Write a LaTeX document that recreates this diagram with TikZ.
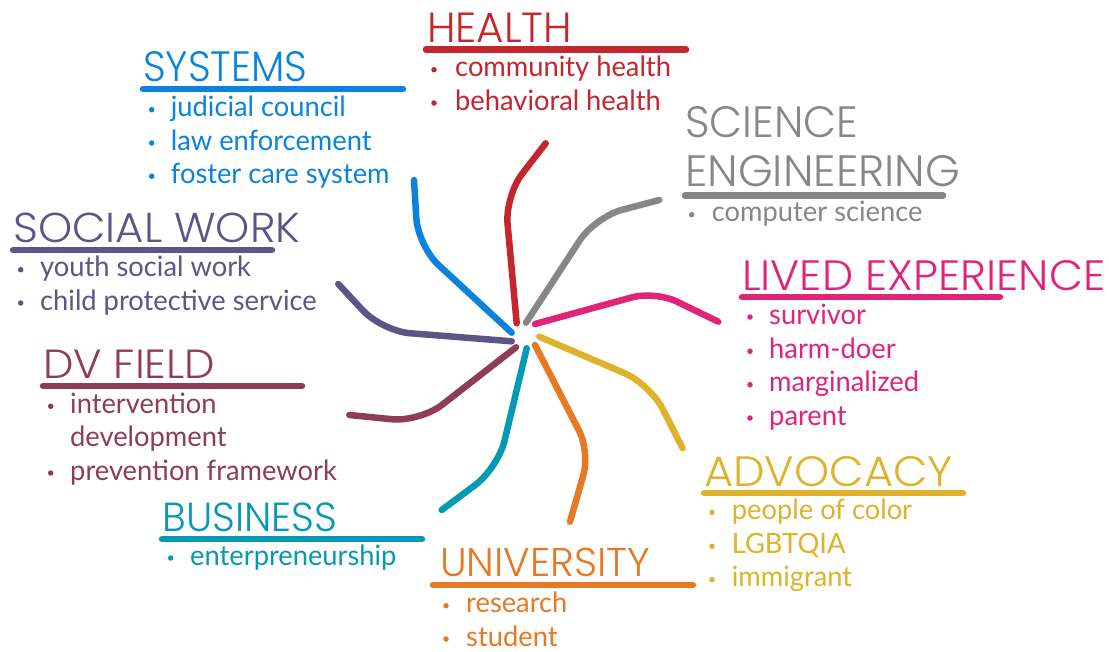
\documentclass[tikz,border=0pt]{standalone}
\usepackage{graphicx}
\usepackage{fontspec}
\IfFontExistsTF{Poppins Light}{\newfontfamily\headfont{Poppins Light}}{\newfontfamily\headfont{Poppins}}
\newfontfamily\bodyfont{Lato}[FakeStretch=0.975]
\definecolor{cHealth}{HTML}{C4262E}
\definecolor{cSys}{HTML}{0A83DF}
\definecolor{cSci}{HTML}{878787}
\definecolor{cSoc}{HTML}{5E5488}
\definecolor{cLived}{HTML}{E0247A}
\definecolor{cDV}{HTML}{8F3B5A}
\definecolor{cAdv}{HTML}{DFB22B}
\definecolor{cBus}{HTML}{0499B4}
\definecolor{cUni}{HTML}{E77824}
\newcommand{\hdtext}[3]{\resizebox{#1pt}{#2pt}{\headfont #3}}
\tikzset{
  spoke/.style={line width=6.5pt, line cap=round, rounded corners=28pt},
  uline/.style={line width=6.5pt, line cap=round},
  head/.style={inner sep=0pt, anchor=base west},
  item/.style={inner sep=0pt, anchor=base west, font=\bodyfont\fontsize{28}{33}\selectfont},
  dot/.style={circle, inner sep=0pt, minimum size=5.5pt},
}
\begin{document}
\begin{tikzpicture}[x=1pt,y=-1pt]
\fill[white] (0,0) rectangle (1109,651);
\useasboundingbox (0,0) rectangle (1109,651);

% spokes
\draw[spoke, cHealth] (545.7,143.3) -- (505,196) -- (516.7,323.3);
\draw[spoke, cSys]    (414,180) -- (418,246) -- (511.7,332.7);
\draw[spoke, cSci]    (659.3,200) -- (595,217) -- (526,322.7);
\draw[spoke, cLived, rounded corners=24pt] (535,324) -- (655,291) -- (718.3,321.7);
\draw[spoke, cAdv]    (539.3,336.7) -- (650,384) -- (682.7,448.3);
\draw[spoke, cUni, rounded corners=24pt] (535,345) -- (590,452) -- (570,521.7);
\draw[spoke, cBus]    (526.7,348.3) -- (498,468) -- (441.7,510);
\draw[spoke, cDV]     (516,347.3) -- (420,422) -- (349.3,415);
\draw[spoke, cSoc]    (511.7,341.3) -- (382,331) -- (338.3,284);

% HEALTH
\node[head, text=cHealth] (health) at (427,42.7) {\hdtext{145}{29.5}{HEALTH}};
\draw[uline, cHealth] (426,49.5) -- (686,49.5);
\node[dot, fill=cHealth] (hb1) at (434,69.7) {};
\node[item, text=cHealth] (h1) at (455,76.7) {community health};
\node[dot, fill=cHealth] (hb2) at (434,103) {};
\node[item, text=cHealth] (h2) at (455,110) {behavioral health};

% SYSTEMS
\node[head, text=cSys] (systems) at (143,81.7) {\hdtext{164}{30}{SYSTEMS}};
\draw[uline, cSys] (143,89) -- (403,89);
\node[dot, fill=cSys] (sb1) at (151.7,109.7) {};
\node[item, text=cSys] (s1) at (170.7,116.7) {judicial council};
\node[dot, fill=cSys] (sb2) at (151.7,143) {};
\node[item, text=cSys] (s2) at (170.7,150) {law enforcement};
\node[dot, fill=cSys] (sb3) at (151.7,176.3) {};
\node[item, text=cSys] (s3) at (170.7,183.3) {foster care system};

% SCIENCE ENGINEERING
\node[head, text=cSci] (science) at (685,137.3) {\hdtext{173}{31}{SCIENCE}};
\node[head, text=cSci] (engineering) at (685,186) {\hdtext{275}{31}{ENGINEERING}};
\draw[uline, cSci] (685,195.7) -- (943,195.7);
\node[dot, fill=cSci] (cb1) at (691.7,214.7) {};
\node[item, text=cSci] (c1) at (711.7,221.7) {computer science};

% SOCIAL WORK
\node[head, text=cSoc] (social) at (13,242.7) {\hdtext{287}{29.5}{SOCIAL WORK}};
\draw[uline, cSoc] (13,250) -- (272,250);
\node[dot, fill=cSoc] (wb1) at (20.7,269.7) {};
\node[item, text=cSoc] (w1) at (40,276.7) {youth social work};
\node[dot, fill=cSoc] (wb2) at (20.7,303) {};
\node[item, text=cSoc] (w2) at (40,310) {child protective service};

% LIVED EXPERIENCE
\node[head, text=cLived] (lived) at (742,290) {\hdtext{363}{30}{LIVED EXPERIENCE}};
\draw[uline, cLived] (742,297) -- (1000,297);
\node[dot, fill=cLived] (lb1) at (750,317) {};
\node[item, text=cLived] (l1) at (769,324) {survivor};
\node[dot, fill=cLived] (lb2) at (750,351.3) {};
\node[item, text=cLived] (l2) at (769,358.3) {harm-doer};
\node[dot, fill=cLived] (lb3) at (750,384.7) {};
\node[item, text=cLived] (l3) at (769,391.7) {marginalized};
\node[dot, fill=cLived] (lb4) at (750,418) {};
\node[item, text=cLived] (l4) at (769,425) {parent};

% DV FIELD
\node[head, text=cDV] (dv) at (43,378.3) {\hdtext{172}{28.5}{DV FIELD}};
\draw[uline, cDV] (43,386) -- (302,386);
\node[dot, fill=cDV] (db1) at (50.7,406.3) {};
\node[item, text=cDV] (d1) at (70,413.3) {intervention};
\node[item, text=cDV] (d1b) at (70,446.7) {development};
\node[dot, fill=cDV] (db2) at (50.7,473) {};
\node[item, text=cDV] (d2) at (70,480) {prevention framework};

% ADVOCACY
\node[head, text=cAdv] (advocacy) at (704,486) {\hdtext{249}{30}{ADVOCACY}};
\draw[uline, cAdv] (704,493) -- (963,493);
\node[dot, fill=cAdv] (ab1) at (712,512.3) {};
\node[item, text=cAdv] (a1) at (731.7,519.3) {people of color};
\node[dot, fill=cAdv] (ab2) at (712,546.3) {};
\node[item, text=cAdv] (a2) at (731.7,553.3) {LGBTQIA};
\node[dot, fill=cAdv] (ab3) at (712,579.7) {};
\node[item, text=cAdv] (a3) at (731.7,586.7) {immigrant};

% BUSINESS
\node[head, text=cBus] (business) at (162.3,531.7) {\hdtext{174.4}{28.7}{BUSINESS}};
\draw[uline, cBus] (162,539) -- (422,539);
\node[dot, fill=cBus] (bb1) at (170.7,558) {};
\node[item, text=cBus] (b1) at (190,565) {enterpreneurship};

% UNIVERSITY
\node[head, text=cUni] (university) at (440,576.7) {\hdtext{210}{28.4}{UNIVERSITY}};
\draw[uline, cUni] (433,585) -- (693,585);
\node[dot, fill=cUni] (ub1) at (446,605.7) {};
\node[item, text=cUni] (u1) at (466,612.7) {research};
\node[dot, fill=cUni] (ub2) at (446,639) {};
\node[item, text=cUni] (u2) at (466,646) {student};
\end{tikzpicture}
\end{document}
